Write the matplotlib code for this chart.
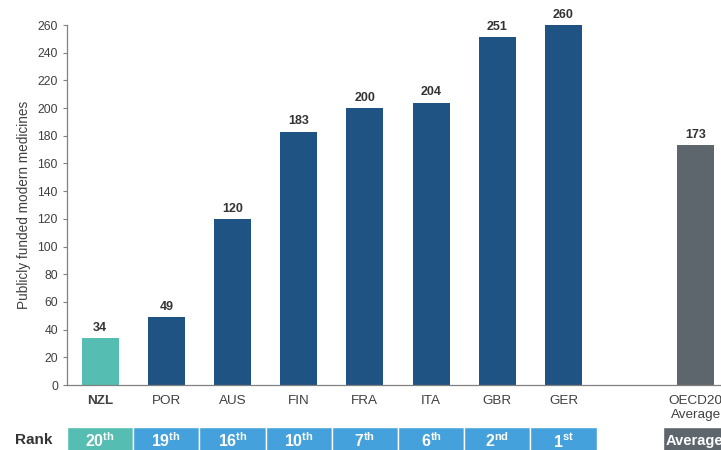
import matplotlib.pyplot as plt
from matplotlib.patches import Rectangle

plt.rcParams['font.family'] = ['Liberation Sans', 'DejaVu Sans']
plt.rcParams['mathtext.fontset'] = 'custom'
plt.rcParams['mathtext.bf'] = 'Liberation Sans:bold'
plt.rcParams['mathtext.rm'] = 'Liberation Sans'

# data
countries = ['NZL', 'POR', 'AUS', 'FIN', 'FRA', 'ITA', 'GBR', 'GER']
medicines = [34, 49, 120, 183, 200, 204, 251, 260]
ranks = ['20', '19', '16', '10', '7', '6', '2', '1']
suffixes = ['th', 'th', 'th', 'th', 'th', 'th', 'nd', 'st']
avg_label = 'OECD20\nAverage'
avg_value = 173

teal = '#55BDB1'
navy = '#1F5383'
grey = '#5E666D'
light_blue = '#45A1DB'
text_col = '#404040'

fig = plt.figure(figsize=(7.21, 4.5), dpi=100)
ax = fig.add_axes([0.0929, 0.1444, 0.9071, 0.80])

xs = list(range(len(countries)))
colors = [teal] + [navy] * (len(countries) - 1)
ax.bar(xs, medicines, width=0.56, color=colors)
avg_x = len(countries) + 1
ax.bar([avg_x], [avg_value], width=0.56, color=grey)

for x, v in zip(xs + [avg_x], medicines + [avg_value]):
    ax.text(x, v + 3, str(v), ha='center', va='bottom', fontsize=9,
            fontweight='bold', color='#333333')

ax.set_xlim(-0.5, 9.38)
ax.set_ylim(0, 260)
ax.set_yticks(range(0, 261, 20))
ax.set_xticks(xs + [avg_x])
ax.set_xticklabels(countries + [avg_label], fontsize=9.7, color=text_col,
                   linespacing=1.25)
ax.get_xticklabels()[0].set_fontweight('bold')
ax.tick_params(axis='x', length=0, pad=7)
ax.tick_params(axis='y', labelsize=8.8, labelcolor=text_col, color='#808080',
               length=3, width=0.8)
for s in ['top', 'right']:
    ax.spines[s].set_visible(False)
for s in ['left', 'bottom']:
    ax.spines[s].set_color('#808080')
    ax.spines[s].set_linewidth(0.9)
ax.set_ylabel('Publicly funded modern medicines', fontsize=9.8, color=text_col,
              labelpad=5)

# rank strip
rax = fig.add_axes([0.0929, -0.03, 0.9071, 0.081])
rax.set_xlim(-0.5, 9.38)
rax.set_ylim(0, 1)
rax.axis('off')
for i, (r, sfx) in enumerate(zip(ranks, suffixes)):
    c = teal if i == 0 else light_blue
    rax.add_patch(Rectangle((i - 0.5, 0), 1, 1, facecolor=c,
                            edgecolor='white', linewidth=1))
    rax.text(i, 0.62, r'$\mathbf{' + r + '^{' + sfx + '}}$', ha='center',
             va='center', color='white', fontsize=11.5)
rax.add_patch(Rectangle((avg_x - 0.5, 0), 1.5, 1, facecolor=grey,
                        edgecolor='white', linewidth=1))
rax.text(avg_x - 0.45, 0.62, 'Average', ha='left', va='center', color='white',
         fontsize=10.5, fontweight='bold')
fig.text(0.021, 0.022, 'Rank', ha='left', va='center', fontsize=11,
         fontweight='bold', color='#333333')

fig.savefig('out.png', dpi=100)
